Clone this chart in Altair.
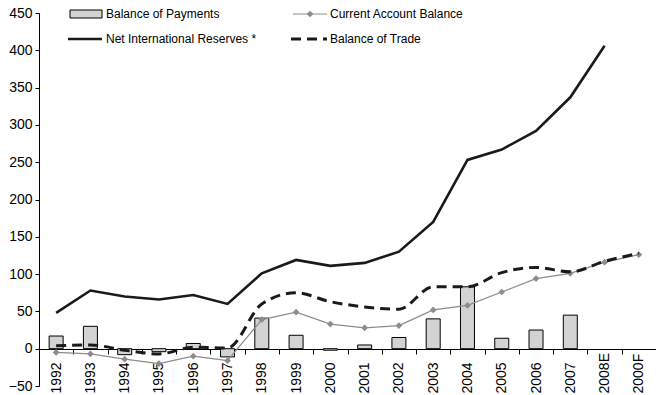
import altair as alt
import pandas as pd

years = ["1992", "1993", "1994", "1995", "1996", "1997", "1998", "1999", "2000",
         "2001", "2002", "2003", "2004", "2005", "2006", "2007", "2008E", "2000F"]
balance_of_payments = [17, 30, -8, -4, 7, -11, 41, 18, -2, 5, 15, 40, 83, 14, 25, 45, None, None]
current_account = [-5, -7, -14, -20, -10, -16, 39, 49, 33, 28, 31, 52, 58, 76, 94, 101, 116, 126]
net_reserves = [48, 78, 70, 66, 72, 60, 101, 119, 111, 115, 130, 170, 253, 267, 292, 337, 406, None]
balance_of_trade = [4, 5, -2, -7, 2, 1, 60, 75, 63, 56, 53, 83, 83, 102, 109, 103, 117, 128]
y_ticks = [-50, 0, 50, 100, 150, 200, 250, 300, 350, 400, 450]

df = pd.DataFrame({
    "year": years,
    "bop": balance_of_payments,
    "cab": current_account,
    "nir": net_reserves,
    "bot": balance_of_trade,
})

FONT = "Liberation Sans"

x_axis = alt.Axis(labelAngle=270, labelAlign="left", labelBaseline="middle",
                  labelPadding=39, tickSize=5, tickBand="extent",
                  offset=-37, domainColor="#000", tickColor="#000",
                  labelColor="#000", labelFontSize=14, labelFont=FONT,
                  labelOverlap=False, grid=False, title=None)
x_scale = alt.Scale(paddingInner=0, paddingOuter=0)
y_scale = alt.Scale(domain=[-50, 450], nice=False, zero=False)
y_axis = alt.Axis(values=y_ticks, title=None, grid=False, tickSize=4,
                  domainColor="#000", tickColor="#000", labelColor="#000",
                  labelFontSize=14, labelFont=FONT, labelPadding=3,
                  labelOverlap=False, labelFlush=False, labelBound=False)


def X():
    return alt.X("year:N", sort=years, title=None, scale=x_scale, axis=x_axis)


def Y(field):
    return alt.Y(field, type="quantitative", title=None, scale=y_scale, axis=y_axis)


base = alt.Chart(df)

bars = base.mark_bar(size=14, fill="#d3d3d3", stroke="#000", strokeWidth=1).encode(
    x=X(), y=Y("bop"), y2=alt.datum(0))

cab_line = base.mark_line(color="#8c8c8c", strokeWidth=1.2,
                          point=alt.OverlayMarkDef(shape="diamond", size=45, filled=True,
                                                   color="#8c8c8c")).encode(
    x=X(), y=Y("cab"))

nir_line = base.mark_line(color="#1a1a1a", strokeWidth=2.6).encode(x=X(), y=Y("nir"))

bot_line = base.mark_line(color="#1a1a1a", strokeWidth=3, strokeDash=[10, 6],
                          interpolate="monotone").encode(x=X(), y=Y("bot"))

one = pd.DataFrame({"k": [0]})
lg = alt.Chart(one)
legend = [
    lg.mark_rect(fill="#d3d3d3", stroke="#000", strokeWidth=1).encode(
        x=alt.value(31), x2=alt.value(63), y=alt.value(-3), y2=alt.value(5)),
    lg.mark_text(align="left", baseline="middle", fontSize=12, font=FONT, color="#000",
                 text="Balance of Payments").encode(x=alt.value(67), y=alt.value(1)),
    lg.mark_rule(color="#8c8c8c", strokeWidth=1.2).encode(
        x=alt.value(254), x2=alt.value(288), y=alt.value(1)),
    lg.mark_point(shape="diamond", size=45, filled=True, color="#8c8c8c", opacity=1).encode(
        x=alt.value(271), y=alt.value(1)),
    lg.mark_text(align="left", baseline="middle", fontSize=12, font=FONT, color="#000",
                 text="Current Account Balance").encode(x=alt.value(291), y=alt.value(1)),
    lg.mark_rule(color="#1a1a1a", strokeWidth=2.6).encode(
        x=alt.value(29), x2=alt.value(63), y=alt.value(26)),
    lg.mark_text(align="left", baseline="middle", fontSize=12, font=FONT, color="#000",
                 text="Net International Reserves *").encode(x=alt.value(67), y=alt.value(26)),
    lg.mark_rule(color="#1a1a1a", strokeWidth=3, strokeDash=[10, 6]).encode(
        x=alt.value(252), x2=alt.value(288), y=alt.value(26)),
    lg.mark_text(align="left", baseline="middle", fontSize=12, font=FONT, color="#000",
                 text="Balance of Trade").encode(x=alt.value(291), y=alt.value(26)),
]

chart = alt.layer(bars, cab_line, nir_line, bot_line, *legend).properties(
    width=617, height=373,
    autosize=alt.AutoSizeParams(type="none"),
    padding={"left": 39, "top": 13, "right": 0, "bottom": 9},
    background="#ffffff",
).configure_view(stroke=None).configure_axis(labelOverlap=False)

chart.save("out.html", embed_options={"renderer": "svg", "actions": False})
